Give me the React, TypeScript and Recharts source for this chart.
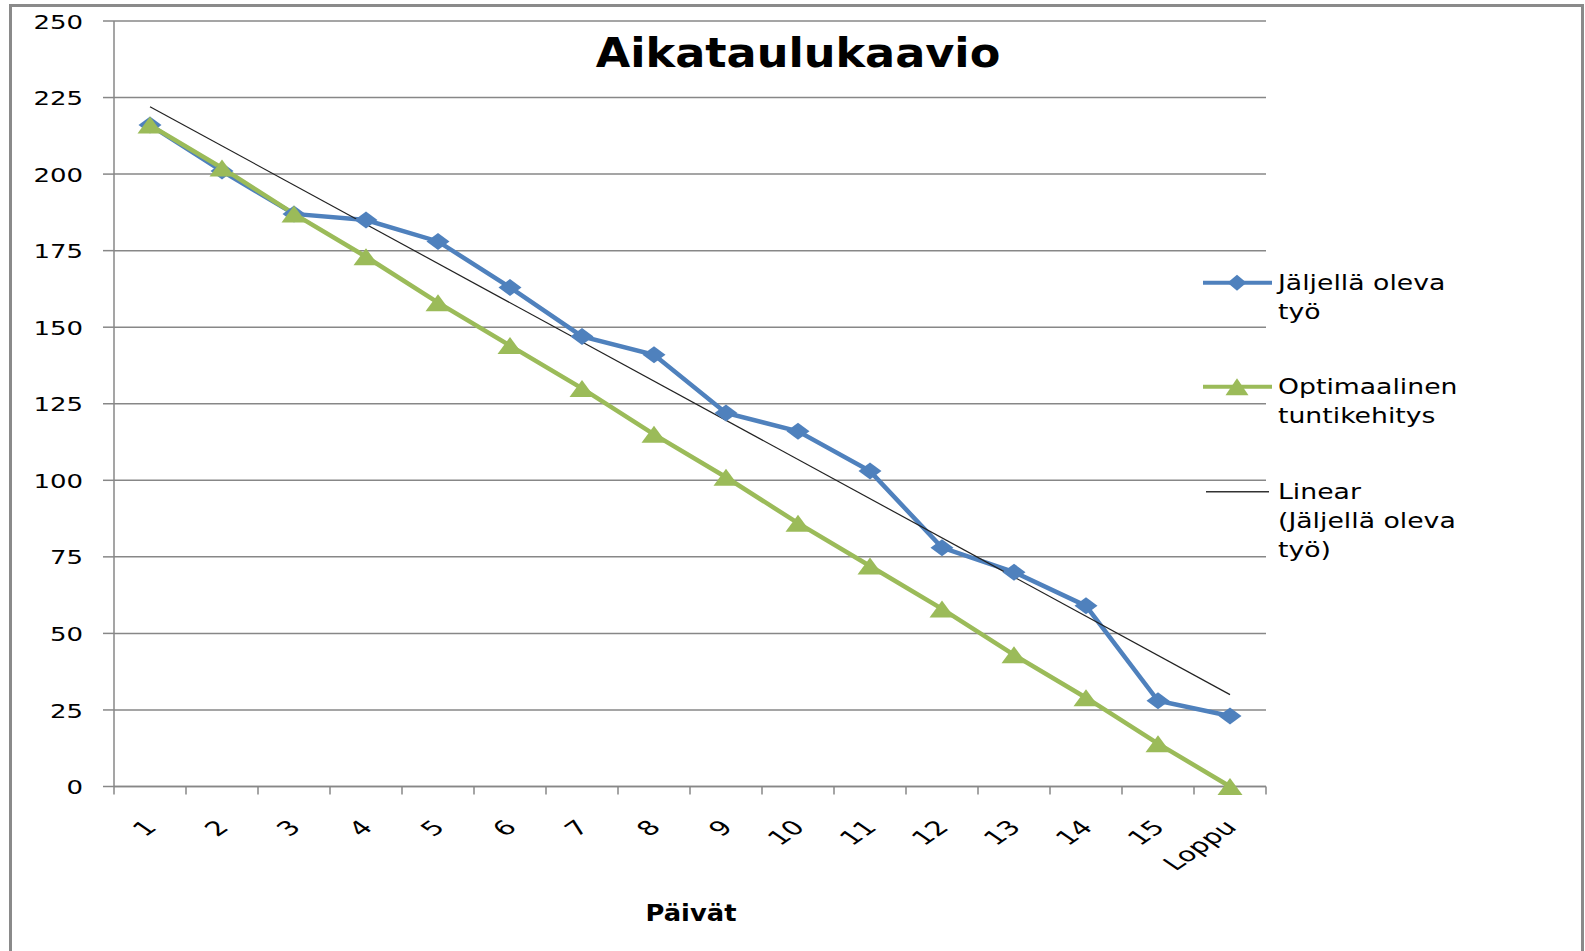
import React from 'react';
import { LineChart, Line, XAxis, YAxis, CartesianGrid, Legend } from 'recharts';

// ---- data ----
const days = ['1', '2', '3', '4', '5', '6', '7', '8', '9', '10', '11', '12', '13', '14', '15', 'Loppu'];
const remainingWork = [216, 201, 187, 185, 178, 163, 147, 141, 122, 116, 103, 78, 70, 59, 28, 23];
const optimalProgress = [216, 202, 187, 173, 158, 144, 130, 115, 101, 86, 72, 58, 43, 29, 14, 0];
// linear trendline of "Jäljellä oleva työ": drawn from first to last category
const trendLine: (number | null)[] = [222, null, null, null, null, null, null, null, null, null, null, null, null, null, null, 30];
const yTicks = [0, 25, 50, 75, 100, 125, 150, 175, 200, 225, 250];

const seriesNames = {
  remaining: 'Jäljellä oleva työ',
  optimal: 'Optimaalinen tuntikehitys',
  trend: 'Linear (Jäljellä oleva työ)',
};

const data = days.map((d, i) => ({
  day: d,
  remaining: remainingWork[i],
  optimal: optimalProgress[i],
  trend: trendLine[i],
}));

// ---- layout / style ----
const W = 1585;
const H = 951;
const PLOT_LEFT = 114;
const PLOT_RIGHT = 1266;
const PLOT_TOP = 21;
const PLOT_BOTTOM = 786.5;
const X_AXIS_H = 100;
const Y_AXIS_W = 100;
const BAND = (PLOT_RIGHT - PLOT_LEFT) / days.length;

const BLUE = '#4F81BD';
const GREEN = '#9BBB59';
const GRID = '#878787';
const FONT = '"DejaVu Sans", sans-serif';

const XTick = (props: any) => {
  const { x, payload, index } = props;
  const half = BAND / 2;
  const ax = x + 8;
  const ay = PLOT_BOTTOM + 42;
  return (
    <g>
      <line x1={x - half} x2={x - half} y1={PLOT_BOTTOM} y2={PLOT_BOTTOM + 8} stroke={GRID} strokeWidth={1.5} />
      {index === days.length - 1 && (
        <line x1={x + half} x2={x + half} y1={PLOT_BOTTOM} y2={PLOT_BOTTOM + 8} stroke={GRID} strokeWidth={1.5} />
      )}
      <text
        transform={`translate(${ax},${ay}) scale(1.45,1) rotate(-45)`}
        textAnchor="end"
        fontSize={20}
        fontFamily={FONT}
        fill="#000"
      >
        {payload.value}
      </text>
    </g>
  );
};

const YTick = (props: any) => {
  const { y, payload } = props;
  return (
    <text
      transform={`translate(${PLOT_LEFT - 31},${y}) scale(1.3,1)`}
      textAnchor="end"
      dy="0.38em"
      fontSize={20}
      fontFamily={FONT}
      fill="#000"
    >
      {payload.value}
    </text>
  );
};

const diamondPath = (cx: number, cy: number, hw: number, hh: number) =>
  `M${cx},${cy - hh} L${cx + hw},${cy} L${cx},${cy + hh} L${cx - hw},${cy} Z`;
const trianglePath = (cx: number, cy: number, hw: number, hh: number) =>
  `M${cx},${cy - hh} L${cx + hw},${cy + hh} L${cx - hw},${cy + hh} Z`;

const DiamondDot = (props: any) => {
  const { cx, cy, index } = props;
  if (cx == null || cy == null) return <g key={`d-${index}`} />;
  return <path key={`d-${index}`} d={diamondPath(cx, cy, 11.5, 8.5)} fill={BLUE} />;
};

const TriangleDot = (props: any) => {
  const { cx, cy, index } = props;
  if (cx == null || cy == null) return <g key={`t-${index}`} />;
  return <path key={`t-${index}`} d={trianglePath(cx, cy, 12.5, 8.5)} fill={GREEN} />;
};

const legendText: React.CSSProperties = {
  position: 'absolute',
  left: 75,
  top: 0,
  fontFamily: FONT,
  fontSize: 21,
  lineHeight: '29px',
  color: '#000',
  whiteSpace: 'nowrap',
  transform: 'scaleX(1.27)',
  transformOrigin: 'left top',
};

const legendItems = [
  { key: 'remaining', lines: ['Jäljellä oleva', 'työ'], top: 0 },
  { key: 'optimal', lines: ['Optimaalinen', 'tuntikehitys'], top: 104 },
  { key: 'trend', lines: ['Linear', '(Jäljellä oleva', 'työ)'], top: 209 },
];

const LegendIcon = ({ kind }: { kind: string }) => (
  <svg width={72} height={28} style={{ position: 'absolute', left: 0, top: 0 }}>
    {kind === 'remaining' && (
      <>
        <line x1={0} x2={69} y1={13.7} y2={13.7} stroke={BLUE} strokeWidth={4} />
        <path d={diamondPath(34, 13.7, 9.5, 8)} fill={BLUE} />
      </>
    )}
    {kind === 'optimal' && (
      <>
        <line x1={0} x2={69} y1={13.7} y2={13.7} stroke={GREEN} strokeWidth={4} />
        <path d={trianglePath(34, 13.7, 11.5, 8.5)} fill={GREEN} />
      </>
    )}
    {kind === 'trend' && <line x1={3} x2={66} y1={13.7} y2={13.7} stroke="#333" strokeWidth={1.5} />}
  </svg>
);

const renderLegend = () => (
  <div style={{ position: 'relative', width: 370, height: 320 }}>
    {legendItems.map((it) => (
      <div key={it.key} style={{ position: 'absolute', left: 0, top: it.top, width: 370, height: 90 }}>
        <LegendIcon kind={it.key} />
        <div style={legendText}>
          {it.lines.map((l, i) => (
            <div key={i}>{l}</div>
          ))}
        </div>
      </div>
    ))}
  </div>
);

export default function App() {
  return (
    <div style={{ position: 'absolute', left: 0, top: 0, width: W, height: H, background: '#fff', overflow: 'hidden' }}>
      <div
        style={{
          position: 'absolute',
          left: 9,
          top: 4,
          width: 1575,
          height: 1000,
          border: '3px solid #8a8a8a',
          boxSizing: 'border-box',
        }}
      />
      <div style={{ position: 'absolute', left: 0, top: 0 }}>
        <LineChart
          width={W}
          height={H}
          data={data}
          margin={{
            top: PLOT_TOP,
            right: W - PLOT_RIGHT,
            left: PLOT_LEFT - Y_AXIS_W,
            bottom: H - PLOT_BOTTOM - X_AXIS_H,
          }}
        >
          <CartesianGrid vertical={false} stroke={GRID} strokeWidth={1.5} />
          <XAxis
            dataKey="day"
            scale="band"
            interval={0}
            height={X_AXIS_H}
            axisLine={{ stroke: GRID, strokeWidth: 1.5 }}
            tickLine={false}
            tick={(p: any) => <XTick {...p} />}
          />
          <YAxis
            domain={[0, 250]}
            ticks={yTicks}
            width={Y_AXIS_W}
            axisLine={{ stroke: GRID, strokeWidth: 1.5 }}
            tickLine={{ stroke: GRID, strokeWidth: 1.5 }}
            tickSize={11}
            tick={(p: any) => <YTick {...p} />}
          />
          <Legend
            layout="vertical"
            align="center"
            verticalAlign="middle"
            content={renderLegend}
            wrapperStyle={{ left: 1203, top: 269.3, width: 370, height: 320 }}
          />
          <Line
            dataKey="remaining"
            name={seriesNames.remaining}
            stroke={BLUE}
            strokeWidth={4.5}
            dot={(p: any) => <DiamondDot {...p} />}
            activeDot={false}
            isAnimationActive={false}
          />
          <Line
            dataKey="optimal"
            name={seriesNames.optimal}
            stroke={GREEN}
            strokeWidth={4.5}
            dot={(p: any) => <TriangleDot {...p} />}
            activeDot={false}
            isAnimationActive={false}
          />
          <Line
            dataKey="trend"
            name={seriesNames.trend}
            stroke="#222"
            strokeWidth={1.2}
            dot={false}
            activeDot={false}
            connectNulls
            isAnimationActive={false}
          />
        </LineChart>
      </div>
      <div
        style={{
          position: 'absolute',
          left: 797.5 - 300,
          width: 600,
          top: 33.2,
          textAlign: 'center',
          fontFamily: FONT,
          fontWeight: 'bold',
          fontSize: 40,
          lineHeight: '40px',
          color: '#000',
          transform: 'scaleX(1.115)',
          transformOrigin: 'center top',
          whiteSpace: 'nowrap',
        }}
      >
        Aikataulukaavio
      </div>
      <div
        style={{
          position: 'absolute',
          left: 691 - 150,
          width: 300,
          top: 902.3,
          textAlign: 'center',
          fontFamily: FONT,
          fontWeight: 'bold',
          fontSize: 23,
          lineHeight: '23px',
          color: '#000',
          transform: 'scaleX(1.12)',
          transformOrigin: 'center top',
          whiteSpace: 'nowrap',
        }}
      >
        Päivät
      </div>
    </div>
  );
}
